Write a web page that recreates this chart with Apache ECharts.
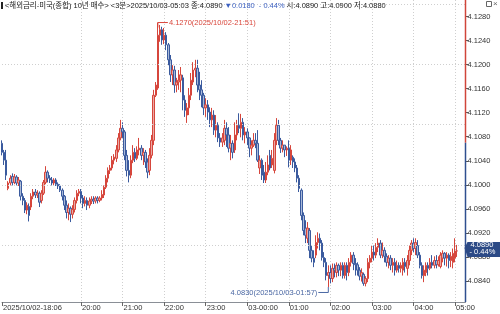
<!DOCTYPE html>
<html><head><meta charset="utf-8">
<script src="https://cdn.jsdelivr.net/npm/echarts@6/dist/echarts.min.js"></script>
<style>html,body{margin:0;padding:0;background:#fff;overflow:hidden}#c{width:500px;height:314px}</style>
</head><body><div id="c"></div>
<script>
// ---- data ----
const title = '<해외금리-미국(종합) 10년 매수>';
const period = '<3분>';
const lastTime = '2025/10/03-05:03';
const lastClose = 4.0890, change = 0.0180, changePct = 0.44;
const openV = 4.0890, highV = 4.0900, lowV = 4.0880;
const prevClose = 4.1070;
const startHour = 18, startMin = 6, stepMin = 3, blankBars = 4;
const yTicks = [4.0840, 4.0880, 4.0920, 4.0960, 4.1000, 4.1040, 4.1080, 4.1120, 4.1160, 4.1200, 4.1240, 4.1280];
const xLabelTimes = ['18:06','20:00','21:00','22:00','23:00','00:00','01:00','02:00','03:00','04:00','05:00'];
const xLabelTexts = ['2025/10/02-18:06','20:00','21:00','22:00','23:00','03-00:00','01:00','02:00','03:00','04:00','05:00'];
const highMark = {time: '21:51', value: 4.1270, text: '4.1270(2025/10/02-21:51)'};
const lowMark = {time: '01:57', value: 4.0830, text: '4.0830(2025/10/03-01:57)'};
// [open, close, low, high]
const ohlc = [
[4.1069,4.1054,4.1049,4.1074],[4.1054,4.1041,4.1033,4.1058],[4.1041,4.1016,4.1008,4.1058],[4.0994,4.1003,4.0991,4.1006],
[4.1003,4.1011,4.0999,4.1016],[4.1014,4.1004,4.0999,4.1019],[4.1004,4.1013,4.1001,4.1018],[4.1013,4.1003,4.0999,4.1016],
[4.1003,4.1008,4.0998,4.1013],[4.1006,4.0981,4.0974,4.1008],[4.0981,4.0974,4.0966,4.0986],[4.0974,4.0958,4.0953,4.0978],
[4.0958,4.0966,4.0951,4.0971],[4.0964,4.0949,4.0939,4.0969],[4.0963,4.0981,4.0958,4.0986],[4.0981,4.0988,4.0976,4.0993],
[4.0988,4.0983,4.0978,4.0993],[4.0983,4.0986,4.0978,4.0991],[4.0986,4.0971,4.0963,4.0989],[4.0974,4.0986,4.0969,4.0991],
[4.0986,4.1004,4.0983,4.1008],[4.1004,4.1021,4.1001,4.1031],[4.1021,4.1011,4.1004,4.1024],[4.1011,4.1008,4.1003,4.1016],
[4.1008,4.1003,4.0999,4.1013],[4.1003,4.1008,4.0999,4.1011],[4.1008,4.1001,4.0998,4.1011],[4.1001,4.0998,4.0993,4.1004],
[4.0998,4.0991,4.0988,4.1001],[4.0991,4.0981,4.0974,4.0994],[4.0981,4.0966,4.0958,4.0983],[4.0966,4.0954,4.0944,4.0974],
[4.0954,4.0961,4.0941,4.0969],[4.0961,4.0951,4.0938,4.0964],[4.0951,4.0959,4.0944,4.0966],[4.0959,4.0974,4.0954,4.0979],
[4.0974,4.0986,4.0969,4.0991],[4.0986,4.0989,4.0981,4.0993],[4.0989,4.0978,4.0969,4.0993],[4.0978,4.0969,4.0961,4.0983],
[4.0969,4.0974,4.0964,4.0981],[4.0974,4.0966,4.0958,4.0979],[4.0966,4.0973,4.0961,4.0979],[4.0973,4.0976,4.0968,4.0981],
[4.0976,4.0973,4.0968,4.0981],[4.0973,4.0978,4.0969,4.0981],[4.0978,4.0974,4.0969,4.0981],[4.0974,4.0978,4.0971,4.0981],
[4.0978,4.0984,4.0974,4.0991],[4.0983,4.0996,4.0978,4.0999],[4.0996,4.1011,4.0993,4.1016],[4.1011,4.1024,4.1004,4.1029],
[4.1024,4.1028,4.1018,4.1033],[4.1028,4.1041,4.1024,4.1048],[4.1041,4.1046,4.1034,4.1051],[4.1044,4.1058,4.1038,4.1066],
[4.1058,4.1078,4.1054,4.1086],[4.1078,4.1094,4.1074,4.1108],[4.1094,4.1088,4.1078,4.1104],[4.1088,4.1049,4.1041,4.1091],
[4.1049,4.1024,4.1014,4.1058],[4.1024,4.1016,4.1004,4.1041],[4.1016,4.1041,4.1011,4.1049],[4.1041,4.1054,4.1036,4.1066],
[4.1054,4.1044,4.1038,4.1061],[4.1044,4.1058,4.1041,4.1064],[4.1058,4.1061,4.1049,4.1078],[4.1061,4.1049,4.1041,4.1066],
[4.1049,4.1054,4.1033,4.1061],[4.1054,4.1038,4.1028,4.1058],[4.1038,4.1021,4.1011,4.1044],[4.1024,4.1049,4.1016,4.1061],
[4.1049,4.1074,4.1044,4.1083],[4.1074,4.1149,4.1066,4.1158],[4.1149,4.1166,4.1146,4.1171],[4.1161,4.1249,4.1158,4.1270],
[4.1249,4.1258,4.1238,4.1266],[4.1258,4.1241,4.1233,4.1263],[4.1241,4.1249,4.1234,4.1261],[4.1249,4.1233,4.1224,4.1254],
[4.1233,4.1208,4.1199,4.1236],[4.1208,4.1183,4.1171,4.1216],[4.1183,4.1191,4.1166,4.1199],[4.1191,4.1166,4.1153,4.1198],
[4.1166,4.1171,4.1154,4.1178],[4.1171,4.1174,4.1158,4.1191],[4.1174,4.1183,4.1154,4.1196],[4.1178,4.1141,4.1124,4.1183],
[4.1141,4.1124,4.1113,4.1149],[4.1116,4.1128,4.1103,4.1136],[4.1128,4.1149,4.1116,4.1161],[4.1149,4.1174,4.1141,4.1186],
[4.1171,4.1191,4.1166,4.1204],[4.1191,4.1194,4.1179,4.1208],[4.1194,4.1166,4.1154,4.1208],[4.1166,4.1158,4.1141,4.1188],
[4.1158,4.1149,4.1129,4.1174],[4.1149,4.1128,4.1116,4.1153],[4.1128,4.1133,4.1113,4.1144],[4.1133,4.1121,4.1108,4.1141],
[4.1121,4.1108,4.1096,4.1129],[4.1108,4.1116,4.1096,4.1128],[4.1116,4.1091,4.1083,4.1124],[4.1091,4.1099,4.1079,4.1116],
[4.1099,4.1078,4.1071,4.1104],[4.1078,4.1071,4.1063,4.1086],[4.1071,4.1078,4.1063,4.1086],[4.1074,4.1094,4.1066,4.1108],
[4.1094,4.1083,4.1063,4.1104],[4.1083,4.1061,4.1054,4.1096],[4.1061,4.1069,4.1041,4.1083],[4.1069,4.1054,4.1044,4.1074],
[4.1058,4.1083,4.1053,4.1104],[4.1083,4.1099,4.1074,4.1108],[4.1099,4.1094,4.1086,4.1119],[4.1094,4.1104,4.1079,4.1118],
[4.1104,4.1083,4.1074,4.1111],[4.1083,4.1088,4.1069,4.1096],[4.1088,4.1078,4.1066,4.1094],[4.1078,4.1061,4.1046,4.1079],
[4.1061,4.1066,4.1049,4.1074],[4.1066,4.1074,4.1063,4.1086],[4.1074,4.1069,4.1061,4.1086],[4.1069,4.1041,4.1038,4.1091],
[4.1028,4.1041,4.1018,4.1049],[4.1041,4.1016,4.1008,4.1044],[4.1021,4.1008,4.1003,4.1033],[4.1008,4.1021,4.1003,4.1038],
[4.1021,4.1033,4.1016,4.1049],[4.1049,4.1028,4.1024,4.1058],[4.1033,4.1044,4.1028,4.1058],[4.1024,4.1074,4.1019,4.1086],
[4.1074,4.1099,4.1066,4.1111],[4.1099,4.1074,4.1066,4.1108],[4.1074,4.1061,4.1053,4.1078],[4.1061,4.1066,4.1054,4.1074],
[4.1066,4.1058,4.1046,4.1066],[4.1058,4.1061,4.1048,4.1064],[4.1061,4.1041,4.1029,4.1074],[4.1041,4.1058,4.1033,4.1066],
[4.1046,4.1038,4.1028,4.1049],[4.1038,4.1028,4.1021,4.1044],[4.1028,4.1011,4.1004,4.1033],[4.1011,4.0994,4.0988,4.1016],
[4.0991,4.0949,4.0941,4.0994],[4.0949,4.0924,4.0916,4.0954],[4.0928,4.0916,4.0903,4.0941],[4.0911,4.0928,4.0903,4.0938],
[4.0924,4.0891,4.0878,4.0928],[4.0891,4.0878,4.0871,4.0899],[4.0878,4.0871,4.0863,4.0891],[4.0883,4.0904,4.0878,4.0916],
[4.0904,4.0911,4.0894,4.0921],[4.0911,4.0903,4.0891,4.0919],[4.0903,4.0879,4.0874,4.0908],[4.0879,4.0871,4.0863,4.0888],
[4.0871,4.0849,4.0841,4.0878],[4.0849,4.0854,4.0830,4.0866],[4.0854,4.0844,4.0836,4.0866],[4.0844,4.0861,4.0838,4.0869],
[4.0861,4.0858,4.0846,4.0869],[4.0854,4.0866,4.0846,4.0871],[4.0866,4.0858,4.0848,4.0869],[4.0858,4.0866,4.0848,4.0871],
[4.0866,4.0849,4.0844,4.0871],[4.0849,4.0866,4.0844,4.0871],[4.0866,4.0854,4.0841,4.0871],[4.0854,4.0871,4.0848,4.0878],
[4.0871,4.0883,4.0864,4.0888],[4.0883,4.0869,4.0858,4.0888],[4.0869,4.0867,4.0849,4.0878],[4.0867,4.0858,4.0849,4.0871],
[4.0858,4.0848,4.0841,4.0863],[4.0848,4.0854,4.0839,4.0861],[4.0851,4.0836,4.0832,4.0854],[4.0836,4.0844,4.0831,4.0848],
[4.0844,4.0871,4.0838,4.0878],[4.0871,4.0878,4.0861,4.0883],[4.0878,4.0888,4.0871,4.0899],[4.0888,4.0883,4.0874,4.0899],
[4.0883,4.0896,4.0878,4.0903],[4.0896,4.0903,4.0888,4.0911],[4.0903,4.0883,4.0878,4.0908],[4.0883,4.0891,4.0878,4.0904],
[4.0891,4.0881,4.0871,4.0896],[4.0881,4.0871,4.0864,4.0886],[4.0871,4.0878,4.0861,4.0883],[4.0878,4.0866,4.0858,4.0883],
[4.0866,4.0871,4.0854,4.0878],[4.0871,4.0858,4.0849,4.0878],[4.0858,4.0866,4.0854,4.0874],[4.0866,4.0861,4.0854,4.0871],
[4.0861,4.0866,4.0854,4.0871],[4.0858,4.0871,4.0849,4.0878],[4.0871,4.0864,4.0854,4.0878],[4.0861,4.0874,4.0849,4.0883],
[4.0874,4.0891,4.0866,4.0899],[4.0891,4.0903,4.0883,4.0908],[4.0903,4.0894,4.0888,4.0911],[4.0894,4.0904,4.0883,4.0911],
[4.0899,4.0883,4.0878,4.0908],[4.0883,4.0866,4.0861,4.0888],[4.0866,4.0849,4.0844,4.0871],[4.0849,4.0858,4.0838,4.0866],
[4.0854,4.0866,4.0848,4.0871],[4.0866,4.0861,4.0849,4.0871],[4.0861,4.0871,4.0858,4.0878],[4.0871,4.0866,4.0861,4.0883],
[4.0866,4.0874,4.0861,4.0881],[4.0874,4.0867,4.0861,4.0883],[4.0867,4.0874,4.0864,4.0881],[4.0864,4.0883,4.0861,4.0888],
[4.0878,4.0886,4.0871,4.0891],[4.0886,4.0878,4.0866,4.0888],[4.0878,4.0883,4.0864,4.0888],[4.0883,4.0874,4.0861,4.0886],
[4.0874,4.0881,4.0863,4.0888],[4.0871,4.0886,4.0861,4.0894],[4.0878,4.0890,4.0871,4.0911],[4.0890,4.0890,4.0880,4.0900]
];

// ---- categories (3-minute bars) ----
const categories = [];
for (let k = 0; k < ohlc.length + blankBars; k++) {
  const m = (startHour * 60 + startMin + k * stepMin) % 1440;
  categories.push(String(Math.floor(m / 60)).padStart(2, '0') + ':' + String(m % 60).padStart(2, '0'));
}

const UP = '#d6463c', UP_FILL = '#eaa9a4', DOWN = '#3a5a9e', DOWN_FILL = '#a9b9d8', GRID = '#cfcfcf';
const FONT = '"Liberation Sans", "Noto Sans CJK KR", sans-serif';
const chart = echarts.init(document.getElementById('c'), null, {renderer: 'canvas'});
const isLabel = (i, v) => xLabelTimes.indexOf(v) >= 0;

chart.setOption({
  animation: false,
  backgroundColor: '#fff',
  grid: {left: -0.4, right: 34.5, top: 0, bottom: 12, containLabel: false},
  xAxis: {
    type: 'category', data: categories, boundaryGap: false,
    axisLine: {show: true, lineStyle: {color: '#8a8f96', width: 1}},
    axisTick: {show: true, interval: isLabel, length: 4, lineStyle: {color: '#666'}},
    axisLabel: {interval: isLabel, formatter: v => xLabelTexts[xLabelTimes.indexOf(v)],
      fontSize: 7.5, fontFamily: FONT, color: '#333', align: 'left', margin: 2, padding: [0,0,0,1]},
    splitLine: {show: true, interval: (i, v) => isLabel(i, v) && v !== xLabelTimes[0],
      lineStyle: {color: GRID, type: [1, 2], width: 1}}
  },
  yAxis: {
    type: 'value', position: 'right', scale: true, min: 4.0805, max: 4.13075,
    axisLine: {show: false},
    axisTick: {show: true, customValues: yTicks, length: 3, lineStyle: {color: '#555'}},
    axisLabel: {customValues: yTicks, formatter: v => v.toFixed(4), fontSize: 7.5, fontFamily: FONT, color: '#333', margin: 2},
    splitLine: {show: false}
  },
  series: [{
    type: 'candlestick', data: ohlc, barWidth: 2,
    itemStyle: {color: UP_FILL, color0: DOWN_FILL, borderColor: UP, borderColor0: DOWN, borderColorDoji: UP, borderWidth: 1},
    markLine: {silent: true, symbol: 'none', animation: false, label: {show: false},
      lineStyle: {color: GRID, type: [1, 2], width: 1},
      data: yTicks.map(v => ({yAxis: v}))}
  }]
});

// ---- overlays placed through the chart's own scales ----
const px = (t, v) => chart.convertToPixel({xAxisIndex: 0, yAxisIndex: 0}, [categories.indexOf(t), v]);
const axisX = chart.convertToPixel({xAxisIndex: 0}, categories.length - 1);
const yTop = chart.convertToPixel({yAxisIndex: 0}, 4.13075);
const yBot = chart.convertToPixel({yAxisIndex: 0}, 4.0805);
const yPrev = chart.convertToPixel({yAxisIndex: 0}, prevClose);
const yLast = chart.convertToPixel({yAxisIndex: 0}, lastClose);
const hi = px(highMark.time, highMark.value);
const lo = px(lowMark.time, lowMark.value);
const f4 = v => v.toFixed(4);

const part1 = title + ' ' + period + lastTime + ' 종:' + f4(lastClose) + ' ';
const part2 = '▼' + f4(change) + '  - ' + changePct.toFixed(2) + '%';
const part3 = ' 시:' + f4(openV) + ' 고:' + f4(highV) + ' 저:' + f4(lowV);
// fit the header to the width it takes in the source picture
const ctx = document.createElement('canvas').getContext('2d');
ctx.font = '10px ' + FONT;
const wRaw = ctx.measureText(part1 + part2 + part3).width;
const hdrSize = Math.min(9, 10 * 381 / wRaw).toFixed(2);
const headerText = part1 + '{b|' + part2 + '}' + part3;

chart.setOption({
  graphic: [
    {type: 'line', shape: {x1: axisX, y1: yTop, x2: axisX, y2: yPrev}, style: {stroke: '#d0453a', lineWidth: 1.5}, z: 100},
    {type: 'line', shape: {x1: axisX, y1: yPrev, x2: axisX, y2: yBot}, style: {stroke: '#2f4f8f', lineWidth: 1.5}, z: 100},
    {type: 'polyline', shape: {points: [[hi[0], hi[1] + 5], [hi[0], hi[1]], [hi[0] + 10, hi[1]]]}, style: {stroke: '#d9463b', lineWidth: 1, fill: null}, z: 100},
    {type: 'text', x: hi[0] + 11, y: hi[1], style: {text: highMark.text, fill: '#d9463b', font: '7.5px ' + FONT, textVerticalAlign: 'middle', verticalAlign: 'middle'}, z: 100},
    {type: 'polyline', shape: {points: [[lo[0] - 10, lo[1] + 5.5], [lo[0], lo[1] + 5.5], [lo[0], lo[1]]]}, style: {stroke: '#4a67a3', lineWidth: 1, fill: null}, z: 100},
    {type: 'text', x: lo[0] - 11, y: lo[1] + 5.5, style: {text: lowMark.text, fill: '#4a67a3', font: '7.5px ' + FONT, align: 'right', textAlign: 'right', verticalAlign: 'middle', textVerticalAlign: 'middle'}, z: 100},
    {type: 'polygon', shape: {points: [[axisX - 1, yLast - 3], [axisX + 2, yLast - 9], [500, yLast - 9], [500, yLast + 6], [axisX + 2, yLast + 6]]}, style: {fill: '#2c4a86'}, z: 101},
    {type: 'text', x: axisX + 5, y: yLast - 5.5, style: {text: f4(lastClose), fill: '#fff', font: '7.5px ' + FONT, verticalAlign: 'middle', textVerticalAlign: 'middle'}, z: 102},
    {type: 'text', x: axisX + 4, y: yLast + 1.5, style: {text: '- ' + changePct.toFixed(2) + '%', fill: '#fff', font: '7.5px ' + FONT, verticalAlign: 'middle', textVerticalAlign: 'middle'}, z: 102},
    {type: 'rect', shape: {x: 1, y: 2, width: 2, height: 7}, style: {fill: '#222'}, z: 100},
    {type: 'text', x: 5, y: 6, style: {text: headerText, fill: '#222', font: hdrSize + 'px ' + FONT, verticalAlign: 'middle', textVerticalAlign: 'middle',
      rich: {b: {fill: '#3a5fc0', font: hdrSize + 'px ' + FONT}}}, z: 100},
    {type: 'rect', shape: {x: 486.5, y: 1.5, width: 5, height: 5}, style: {fill: '#fff', stroke: '#666', lineWidth: 1}, z: 100},
    {type: 'text', x: 493, y: 4, style: {text: '×', fill: '#666', font: '8px ' + FONT, verticalAlign: 'middle', textVerticalAlign: 'middle'}, z: 100}
  ]
});
</script></body></html>
